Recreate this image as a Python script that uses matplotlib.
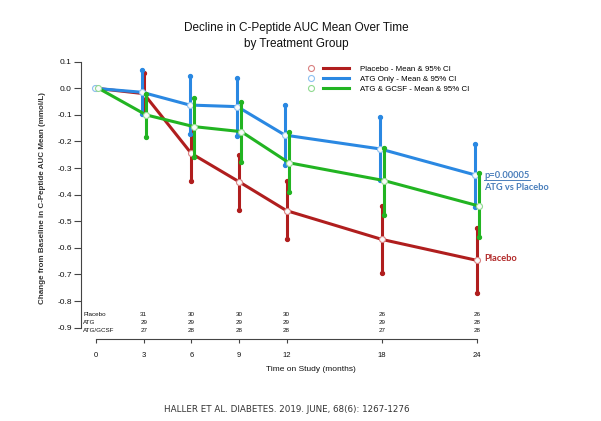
import matplotlib
matplotlib.use("Agg")
import matplotlib.pyplot as plt
from matplotlib.lines import Line2D
from matplotlib.legend_handler import HandlerTuple
from matplotlib.transforms import IdentityTransform

plt.rcParams['font.family'] = ['Liberation Sans', 'DejaVu Sans']

# Data
months = [0, 3, 6, 9, 12, 18, 24]

placebo_mean = [0, -0.020, -0.245, -0.351, -0.460, -0.568, -0.647]
placebo_lo = [0, -0.096, -0.347, -0.457, -0.568, -0.695, -0.770]
placebo_hi = [0, 0.056, -0.145, -0.250, -0.350, -0.442, -0.526]

atg_mean = [0, -0.015, -0.063, -0.069, -0.176, -0.228, -0.326]
atg_lo = [0, -0.095, -0.172, -0.179, -0.290, -0.345, -0.445]
atg_hi = [0, 0.069, 0.046, 0.038, -0.063, -0.108, -0.208]

gcsf_mean = [0, -0.100, -0.144, -0.163, -0.280, -0.347, -0.443]
gcsf_lo = [0, -0.183, -0.257, -0.276, -0.390, -0.476, -0.560]
gcsf_hi = [0, -0.020, -0.038, -0.050, -0.163, -0.225, -0.318]

risk_groups = ['Placebo', 'ATG', 'ATG/GCSF']
risk_months = [3, 6, 9, 12, 18, 24]
risk_counts = [
    [31, 30, 30, 30, 26, 26],
    [29, 29, 29, 29, 29, 28],
    [27, 28, 28, 28, 27, 28],
]

legend_labels = ['Placebo - Mean & 95% CI', 'ATG Only - Mean & 95% CI',
                 'ATG & GCSF - Mean & 95% CI']

red = '#B01E1E'
blue = '#2A88E2'
green = '#22B422'

fig = plt.figure(figsize=(6.01, 4.21), dpi=100)
ax = fig.add_axes([0.1348, 0.1948, 0.7645, 0.6713])

series = [
    (placebo_mean, placebo_lo, placebo_hi, red, '#D98080', 0.0),
    (atg_mean, atg_lo, atg_hi, blue, '#8DC0F0', -0.1),
    (gcsf_mean, gcsf_lo, gcsf_hi, green, '#90DA90', 0.15),
]

handles = []
for i, (mean, lo, hi, col, light, off) in enumerate(series):
    x = [m + off for m in months]
    z = 2 + i
    # error bars (skip baseline)
    ax.vlines(x[1:], lo[1:], hi[1:], color=col, lw=2.2, zorder=z)
    ax.plot(x[1:], lo[1:], 'o', color=col, ms=2.8, zorder=z)
    ax.plot(x[1:], hi[1:], 'o', color=col, ms=2.8, zorder=z)
    ax.plot(x, mean, color=col, lw=2.2, zorder=z, solid_capstyle='butt')
    ax.plot(x, mean, 'o', ms=4.3, mfc='#FAFAFA', mec=light, mew=0.8, zorder=z + 0.5)
    handles.append((Line2D([], [], marker='o', ls='none', ms=4.3, mfc='none',
                           mec=light, mew=0.8),
                    Line2D([], [], color=col, lw=2.2)))

ax.set_xlim(-0.95, 28)
ax.set_ylim(-0.9425, 0.12)

for s in ['top', 'right']:
    ax.spines[s].set_visible(False)
ax.spines['bottom'].set_bounds(0, 24)
ax.spines['left'].set_bounds(-0.9, 0.1)
for s in ['bottom', 'left']:
    ax.spines[s].set_color('#444444')
    ax.spines[s].set_linewidth(0.8)

ax.set_xticks(months)
ax.set_xticklabels([str(m) for m in months])
yt = [0.1 - 0.1 * k for k in range(11)]
ax.set_yticks(yt)
ax.set_yticklabels(['%.1f' % v if abs(v) > 1e-9 else '0.0' for v in yt])
ax.tick_params(axis='x', length=3, width=0.8, pad=6.5, labelsize=5.5,
               color='#444444', labelcolor='#111111')
ax.tick_params(axis='y', length=5, width=0.8, pad=1.5, labelsize=6,
               color='#444444', labelcolor='#111111')

ax.set_xlabel('Time on Study (months)', fontsize=6, labelpad=5, color='#111111')
ax.set_ylabel('Change from Baseline in C-Peptide AUC Mean (mmol/L)',
              fontsize=5.8, fontweight='bold', color='#333333', labelpad=8)

# number at risk table
row_y = [-0.852, -0.880, -0.909]
for g, counts, yy in zip(risk_groups, risk_counts, row_y):
    ax.text(-0.82, yy, g, fontsize=4.5, ha='left', va='center', color='#111111')
    for m, c in zip(risk_months, counts):
        ax.text(m, yy, str(c), fontsize=4.5, ha='center', va='center',
                color='#111111')

# legend
ax.legend(handles, legend_labels, handler_map={tuple: HandlerTuple(ndivide=None, pad=0)},
          loc='upper left', bbox_to_anchor=(298 / 601, 1 - 65 / 421),
          bbox_transform=fig.transFigure, frameon=False, fontsize=5.7,
          handlelength=6.4, handletextpad=1.4, labelspacing=0.35,
          borderpad=0, borderaxespad=0)

# annotations
ptxt = ax.text(24.45, -0.326, 'p=0.00005', color='#4A7EBB', fontsize=6.7,
               fontweight='bold', family=['Lato', 'DejaVu Sans'],
               ha='left', va='center')
ax.text(24.45, -0.372, 'ATG vs Placebo', color='#4A7EBB', fontsize=6.7,
        fontweight='bold', family=['Lato', 'DejaVu Sans'], ha='left', va='center')
ax.text(24.45, -0.64, 'Placebo', color='#B22A2A', fontsize=6.7,
        fontweight='bold', family=['Lato', 'DejaVu Sans'], ha='left', va='center')

fig.text(296 / 601, 1 - 36 / 421,
         'Decline in C-Peptide AUC Mean Over Time\nby Treatment Group',
         ha='center', va='center', fontsize=8.5, linespacing=1.35, color='#111111')
fig.text(287 / 601, 1 - 409 / 421,
         'HALLER ET AL. DIABETES. 2019. JUNE, 68(6): 1267-1276',
         ha='center', va='center', fontsize=6.3, color='#333333',
         family=['Liberation Sans Narrow', 'DejaVu Sans'])

# underline p-value
fig.canvas.draw()
bb = ptxt.get_window_extent()
fig.add_artist(Line2D([bb.x0, bb.x1], [bb.y0 - 0.5, bb.y0 - 0.5],
                      transform=IdentityTransform(), color='#4A7EBB', lw=0.7))

fig.savefig('out.png', dpi=100)
